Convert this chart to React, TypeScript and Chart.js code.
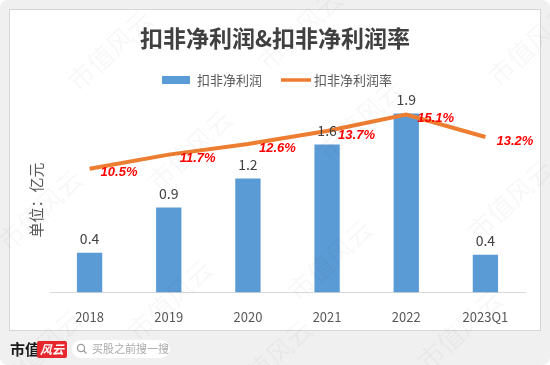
import React, { useEffect, useRef } from "react";
import { Chart, registerables } from "chart.js";
Chart.register(...registerables);

const chartTitle = "扣非净利润&扣非净利润率";
const seriesNames = ["扣非净利润", "扣非净利润率"];
const yAxisTitle = "单位：亿元";
const categories = ["2018", "2019", "2020", "2021", "2022", "2023Q1"];
const profit = [0.42, 0.9, 1.21, 1.57, 1.9, 0.4];
const marginPct = [10.5, 11.7, 12.6, 13.7, 15.1, 13.2];
const watermark = "市值风云";
const brandName = "市值";
const brandMark = "风云";
const searchHint = "买股之前搜一搜";

const CJK = '"Noto Sans CJK SC", "Microsoft YaHei", sans-serif';
const BLUE = "#5B9BD5";
const ORANGE = "#ED7D31";

function rr(ctx: CanvasRenderingContext2D, x: number, y: number, w: number, h: number, r: number) {
  ctx.beginPath();
  ctx.moveTo(x + r, y);
  ctx.lineTo(x + w - r, y);
  ctx.arcTo(x + w, y, x + w, y + r, r);
  ctx.lineTo(x + w, y + h - r);
  ctx.arcTo(x + w, y + h, x + w - r, y + h, r);
  ctx.lineTo(x + r, y + h);
  ctx.arcTo(x, y + h, x, y + h - r, r);
  ctx.lineTo(x, y + r);
  ctx.arcTo(x, y, x + r, y, r);
  ctx.closePath();
}

const decor = {
  id: "decor",
  beforeDraw(chart: any) {
    const ctx = chart.ctx as CanvasRenderingContext2D;
    const W = chart.width, H = chart.height;
    ctx.save();
    ctx.fillStyle = "#ffffff";
    ctx.fillRect(0, 0, W, H);
    ctx.fillStyle = "#f0f0f0";
    rr(ctx, 0, 0, W, H, 8);
    ctx.fill();
    ctx.fillStyle = "#ffffff";
    ctx.fillRect(9.5, 9.5, 531, 321);
    ctx.strokeStyle = "#d6d6d6";
    ctx.lineWidth = 1;
    ctx.strokeRect(9.5, 9.5, 531, 321);
    ctx.restore();
  },
  afterDatasetsDraw(chart: any) {
    const ctx = chart.ctx as CanvasRenderingContext2D;
    ctx.save();
    const barMeta = chart.getDatasetMeta(1);
    ctx.fillStyle = "#404040";
    ctx.font = `14px ${CJK}`;
    ctx.textAlign = "center";
    ctx.textBaseline = "bottom";
    barMeta.data.forEach((el: any, i: number) => {
      ctx.fillText(profit[i].toFixed(1), el.x, el.y - 7);
    });
    const lineMeta = chart.getDatasetMeta(0);
    ctx.fillStyle = "#FF0000";
    ctx.font = `italic bold 13px "Liberation Sans", Arial, sans-serif`;
    ctx.textAlign = "left";
    ctx.textBaseline = "middle";
    lineMeta.data.forEach((el: any, i: number) => {
      ctx.fillText(marginPct[i].toFixed(1) + "%", el.x + 11, el.y + 4);
    });
    ctx.restore();
  },
  afterDraw(chart: any) {
    const ctx = chart.ctx as CanvasRenderingContext2D;
    ctx.save();
    ctx.fillStyle = "#404040";
    ctx.font = `bold 23px ${CJK}`;
    ctx.textAlign = "center";
    ctx.textBaseline = "middle";
    ctx.fillText(chartTitle, 275, 38);
    ctx.fillStyle = BLUE;
    ctx.fillRect(162, 76, 28, 8);
    ctx.fillStyle = "#595959";
    ctx.font = `13px ${CJK}`;
    ctx.textAlign = "left";
    ctx.fillText(seriesNames[0], 197, 80);
    ctx.strokeStyle = ORANGE;
    ctx.lineWidth = 3.5;
    ctx.beginPath();
    ctx.moveTo(281, 80);
    ctx.lineTo(311, 80);
    ctx.stroke();
    ctx.fillText(seriesNames[1], 314, 80);
    ctx.save();
    ctx.translate(36, 200);
    ctx.rotate(-Math.PI / 2);
    ctx.font = `15px ${CJK}`;
    ctx.textAlign = "center";
    ctx.fillStyle = "#595959";
    ctx.fillText(yAxisTitle, 0, 0);
    ctx.restore();
    ctx.fillStyle = "#1a1a1a";
    ctx.font = `bold 15px ${CJK}`;
    ctx.textAlign = "left";
    ctx.fillText(brandName, 10, 349);
    ctx.fillStyle = "#e8282e";
    rr(ctx, 37, 341, 30, 17, 2);
    ctx.fill();
    ctx.fillStyle = "#ffffff";
    ctx.font = `italic bold 12px ${CJK}`;
    ctx.fillText(brandMark, 40, 349.5);
    ctx.fillStyle = "#ffffff";
    rr(ctx, 72, 340, 98, 18, 9);
    ctx.fill();
    ctx.strokeStyle = "#9a9a9a";
    ctx.lineWidth = 1.3;
    ctx.beginPath();
    ctx.arc(81, 348, 3.6, 0, Math.PI * 2);
    ctx.stroke();
    ctx.beginPath();
    ctx.moveTo(83.6, 350.6);
    ctx.lineTo(86.5, 353.5);
    ctx.stroke();
    ctx.fillStyle = "#aaaaaa";
    ctx.font = `11px ${CJK}`;
    ctx.fillText(searchHint, 92, 349);
    ctx.fillStyle = "rgba(0,0,0,0.03)";
    ctx.font = `26px ${CJK}`;
    ctx.textAlign = "center";
    const spots = [
      [110, 50], [300, 30], [530, 45], [40, 210], [190, 150], [360, 120],
      [510, 200], [170, 300], [330, 260], [460, 330], [40, 350], [270, 360],
    ];
    spots.forEach(([x, y]) => {
      ctx.save();
      ctx.translate(x, y);
      ctx.rotate(-0.75);
      ctx.fillText(watermark, 0, 0);
      ctx.restore();
    });
    ctx.restore();
  },
};

export default function App() {
  const ref = useRef<HTMLCanvasElement | null>(null);
  useEffect(() => {
    document.body.style.margin = "0";
    const canvas = ref.current!;
    const chart = new Chart(canvas, {
      type: "bar",
      data: {
        labels: categories,
        datasets: [
          {
            type: "line",
            label: seriesNames[1],
            data: marginPct,
            yAxisID: "y1",
            borderColor: ORANGE,
            backgroundColor: ORANGE,
            borderWidth: 4,
            pointRadius: 0,
            tension: 0,
            order: 0,
          } as any,
          {
            type: "bar",
            label: seriesNames[0],
            data: profit,
            yAxisID: "y",
            backgroundColor: BLUE,
            barPercentage: 0.32,
            categoryPercentage: 1,
            order: 1,
          } as any,
        ],
      },
      options: {
        responsive: false,
        animation: false,
        layout: { padding: { left: 50, right: 25, top: 104, bottom: 31 } },
        plugins: {
          legend: { display: false },
          title: { display: false },
          tooltip: { enabled: false },
        },
        scales: {
          x: {
            grid: { display: false },
            border: { display: true, color: "#d9d9d9", width: 1 },
            ticks: {
              color: "#595959",
              font: { size: 13, family: CJK },
              padding: 9,
              maxRotation: 0,
            },
          },
          y: { display: false, min: 0, max: 2 },
          y1: { display: false, min: 0, max: 16, position: "right" },
        },
      },
      plugins: [decor],
    });
    return () => chart.destroy();
  }, []);
  return <canvas ref={ref} width={550} height={365} style={{ display: "block" }} />;
}
